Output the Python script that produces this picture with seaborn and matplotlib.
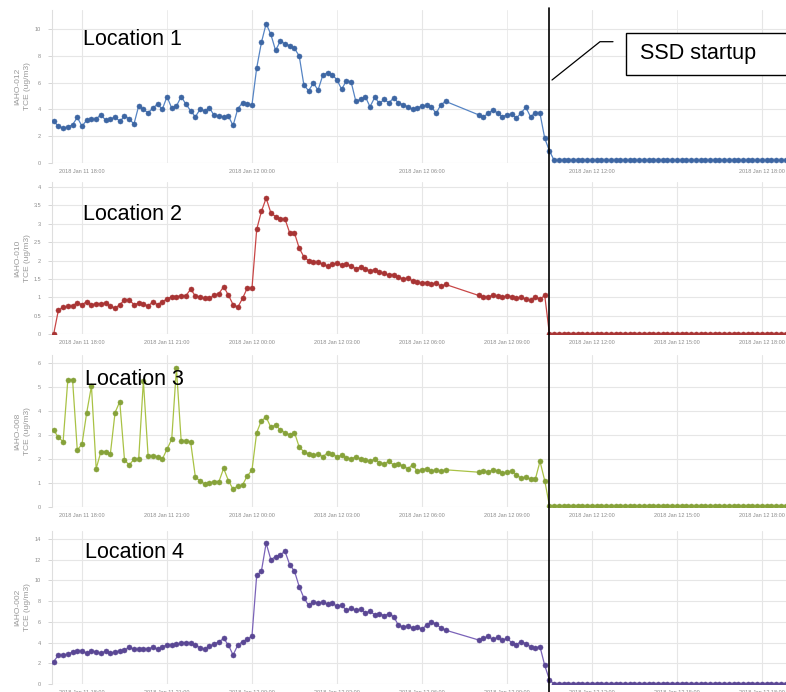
import numpy as np
import pandas as pd
import matplotlib
matplotlib.use("Agg")
import matplotlib.pyplot as plt
import matplotlib.dates as mdates
from matplotlib.lines import Line2D
from matplotlib.patches import Rectangle
from matplotlib.ticker import FuncFormatter
import seaborn as sns

nan = float("nan")

# ---- data: TCE readings at 10-minute intervals from 2018-01-11 17:00 ----
locations = ["Location 1", "Location 2", "Location 3", "Location 4"]
sensor_ids = ["IAHO-012", "IAHO-010", "IAHO-008", "IAHO-002"]

loc1_before = [
    3.1, 2.75, 2.6, 2.7, 2.85, 3.4, 2.75, 3.2, 3.25, 3.3,
    3.6, 3.2, 3.25, 3.45, 3.1, 3.5, 3.3, 2.9, 4.25, 4.0,
    3.75, 4.1, 4.4, 4.0, 4.95, 4.1, 4.25, 4.95, 4.4, 3.9,
    3.45, 4.0, 3.9, 4.1, 3.55, 3.5, 3.45, 3.5, 2.8, 4.05,
    4.5, 4.4, 4.35, 7.1, 9.0, 10.4, 9.6, 8.4, 9.1, 8.9,
    8.75, 8.55, 8.0, 5.8, 5.4, 5.95, 5.45, 6.55, 6.75, 6.6,
    6.2, 5.5, 6.15, 6.05, 4.6, 4.75, 4.95, 4.2, 4.9, 4.45,
    4.75, 4.5, 4.85, 4.5, 4.35, 4.2, 4.0, 4.1, 4.25, 4.3,
    4.2, 3.7, 4.35, 4.6,
    nan, nan, nan, nan, nan, nan,
    3.6, 3.45, 3.7, 3.95, 3.75, 3.45, 3.6, 3.65, 3.35, 3.75,
    4.15, 3.45, 3.75, 3.7, 1.85, 0.9,
]

loc2_before = [
    0.0, 0.65, 0.73, 0.75, 0.77, 0.85, 0.8, 0.88, 0.8, 0.82,
    0.83, 0.84, 0.76, 0.7, 0.8, 0.93, 0.93, 0.8, 0.84, 0.82,
    0.76, 0.88, 0.8, 0.88, 0.95, 1.02, 1.02, 1.04, 1.04, 1.22,
    1.04, 1.0, 0.97, 0.97, 1.06, 1.1, 1.29, 1.06, 0.8, 0.73,
    0.97, 1.25, 1.25, 2.85, 3.34, 3.7, 3.3, 3.2, 3.13, 3.13,
    2.75, 2.75, 2.34, 2.1, 2.0, 1.96, 1.95, 1.9, 1.85, 1.9,
    1.93, 1.88, 1.9, 1.85, 1.78, 1.82, 1.76, 1.72, 1.75, 1.68,
    1.65, 1.6, 1.62, 1.55, 1.5, 1.52, 1.45, 1.42, 1.38, 1.4,
    1.35, 1.4, 1.3, 1.35,
    nan, nan, nan, nan, nan, nan,
    1.05, 1.0, 1.02, 1.05, 1.03, 1.0, 1.04, 1.02, 0.98, 1.0,
    0.95, 0.92, 1.02, 0.95, 1.05, 0.0,
]

loc3_before = [
    3.2, 2.9, 2.72, 5.3, 5.3, 2.37, 2.62, 3.93, 5.04, 1.6,
    2.3, 2.3, 2.2, 3.93, 4.39, 1.96, 1.75, 1.99, 1.99, 5.25,
    2.12, 2.12, 2.1, 1.99, 2.4, 2.82, 5.78, 2.76, 2.74, 2.72,
    1.26, 1.08, 0.96, 1.01, 1.06, 1.06, 1.61, 1.1, 0.74, 0.88,
    0.92, 1.29, 1.54, 3.1, 3.6, 3.74, 3.32, 3.42, 3.21, 3.1,
    3.0, 3.1, 2.5, 2.3, 2.2, 2.15, 2.2, 2.1, 2.25, 2.2,
    2.1, 2.15, 2.05, 2.0, 2.1, 2.0, 1.95, 1.9, 2.0, 1.85,
    1.8, 1.9, 1.75, 1.8, 1.7, 1.6, 1.75, 1.5, 1.55, 1.6,
    1.5, 1.55, 1.5, 1.55,
    nan, nan, nan, nan, nan, nan,
    1.45, 1.5, 1.45, 1.55, 1.5, 1.4, 1.45, 1.5, 1.35, 1.2,
    1.25, 1.15, 1.15, 1.9, 1.1, 0.05,
]

loc4_before = [
    2.15, 2.8, 2.8, 2.86, 3.1, 3.2, 3.18, 2.96, 3.2, 3.1,
    2.96, 3.18, 2.96, 3.1, 3.2, 3.28, 3.54, 3.35, 3.35, 3.38,
    3.38, 3.54, 3.35, 3.6, 3.76, 3.76, 3.83, 3.92, 4.0, 3.92,
    3.76, 3.5, 3.35, 3.67, 3.86, 4.08, 4.4, 3.76, 2.8, 3.76,
    4.08, 4.3, 4.63, 10.5, 10.9, 13.6, 12.0, 12.3, 12.5, 12.8,
    11.5, 10.9, 9.4, 8.3, 7.6, 7.9, 7.8, 7.9, 7.7, 7.8,
    7.5, 7.6, 7.1, 7.3, 7.1, 7.2, 6.9, 7.0, 6.7, 6.8,
    6.6, 6.8, 6.5, 5.7, 5.5, 5.6, 5.4, 5.5, 5.3, 5.7,
    6.0, 5.8, 5.4, 5.2,
    nan, nan, nan, nan, nan, nan,
    4.25, 4.4, 4.6, 4.3, 4.5, 4.2, 4.4, 4.0, 3.8, 4.1,
    3.9, 3.6, 3.5, 3.6, 1.8, 0.4,
]

# after the SSD system starts, every location reads essentially zero
after_startup_level = [0.2, 0.0, 0.05, 0.0]
after_startup_samples = 52

y_tops = [11.42, 4.14, 6.33, 14.77]
y_steps = [2, 0.5, 1, 2]
y_max_ticks = [10, 4, 6, 14]

line_colors = ["#5584c4", "#c84646", "#a9c245", "#7a62b8"]
marker_colors = ["#3d66a3", "#a83434", "#86a23a", "#5a4794"]

series_before = [loc1_before, loc2_before, loc3_before, loc4_before]

# ---- figure ----
W, H = 786, 692
sns.set_theme(style="white")
plt.rcParams["font.family"] = ["Liberation Sans", "DejaVu Sans"]
fig = plt.figure(figsize=(W / 100, H / 100), dpi=100)


def fx(px):
    return px / W


def fy(py):
    return 1 - py / H


rows = [(10, 163), (182, 334), (355, 507), (531, 684)]
ax_left, ax_right = 52, 786

t_tick0 = pd.Timestamp("2018-01-11 18:00")
px_per_hour = 28.33
x_lo = t_tick0 + pd.Timedelta(hours=(ax_left - 82) / px_per_hour)
x_hi = t_tick0 + pd.Timedelta(hours=(ax_right - 82) / px_per_hour)

label_baselines = [45, 220, 385, 558]
label_lefts = [83, 83, 85, 85]

for k in range(4):
    top, bottom = rows[k]
    ax = fig.add_axes([fx(ax_left), fy(bottom), fx(ax_right) - fx(ax_left), (bottom - top) / H])

    values = series_before[k] + [after_startup_level[k]] * after_startup_samples
    times = pd.date_range("2018-01-11 17:00", periods=len(values), freq="10min")
    df = pd.DataFrame({"time": times, "value": values}).dropna()

    sns.lineplot(
        data=df, x="time", y="value", ax=ax,
        color=line_colors[k], linewidth=0.9,
        marker="o", markersize=3.6,
        markerfacecolor=marker_colors[k], markeredgecolor=marker_colors[k],
        markeredgewidth=0.4, zorder=3,
    )

    ax.set_xlim(x_lo, x_hi)
    ax.set_ylim(0, y_tops[k])
    ax.set_xlabel("")
    ax.set_ylabel(f"{sensor_ids[k]}\nTCE (ug/m3)", fontsize=6, color="#9a9a9a",
                  linespacing=1.4)
    ax.yaxis.set_label_coords(-0.029, 0.5)

    ax.set_yticks(np.arange(0, y_max_ticks[k] + 1e-9, y_steps[k]))
    ax.yaxis.set_major_formatter(FuncFormatter(lambda v, p: f"{v:g}"))

    if k == 0:
        ax.xaxis.set_major_locator(mdates.HourLocator(byhour=[0, 6, 12, 18]))
        ax.xaxis.set_minor_locator(mdates.HourLocator(byhour=range(0, 24, 3)))
        ax.grid(True, which="minor", axis="x", color="#ececec", linewidth=0.7)
    else:
        ax.xaxis.set_major_locator(mdates.HourLocator(byhour=range(0, 24, 3)))
    ax.xaxis.set_major_formatter(mdates.DateFormatter("%Y %b %d %H:%M"))

    ax.grid(True, which="major", color="#e6e6e6", linewidth=0.8)
    ax.set_axisbelow(True)
    for side in ["top", "right", "bottom"]:
        ax.spines[side].set_visible(False)
    ax.spines["left"].set_color("#dedede")
    ax.spines["left"].set_linewidth(0.8)

    ax.tick_params(axis="y", which="both", length=3, width=0.6, color="#cfcfcf",
                   labelsize=4, labelcolor="#8c8c8c", pad=5, left=True)
    ax.tick_params(axis="x", which="both", length=0, labelsize=4,
                   labelcolor="#8c8c8c", pad=4)
    for lbl in ax.get_xticklabels():
        lbl.set_ha("center")

    fig.text(fx(label_lefts[k]), fy(label_baselines[k]), locations[k],
             fontsize=15.5, color="black", ha="left", va="baseline", zorder=10)

# SSD startup marker and callout
fig.add_artist(Line2D([fx(549.3), fx(549.3)], [fy(8), fy(692)],
                      color="black", linewidth=1.2, zorder=8))
fig.add_artist(Line2D([fx(552), fx(600), fx(613)], [fy(80), fy(41.7), fy(41.7)],
                      color="black", linewidth=0.9, zorder=8))
fig.add_artist(Rectangle((fx(625.7), fy(75)), fx(800) - fx(625.7), (75 - 33.3) / H,
                         transform=fig.transFigure, facecolor="white",
                         edgecolor="black", linewidth=1.0, zorder=8))
fig.text(fx(640), fy(54), "SSD startup", fontsize=15.5, color="black",
         ha="left", va="center", zorder=10)

fig.savefig("out.png", dpi=100)
